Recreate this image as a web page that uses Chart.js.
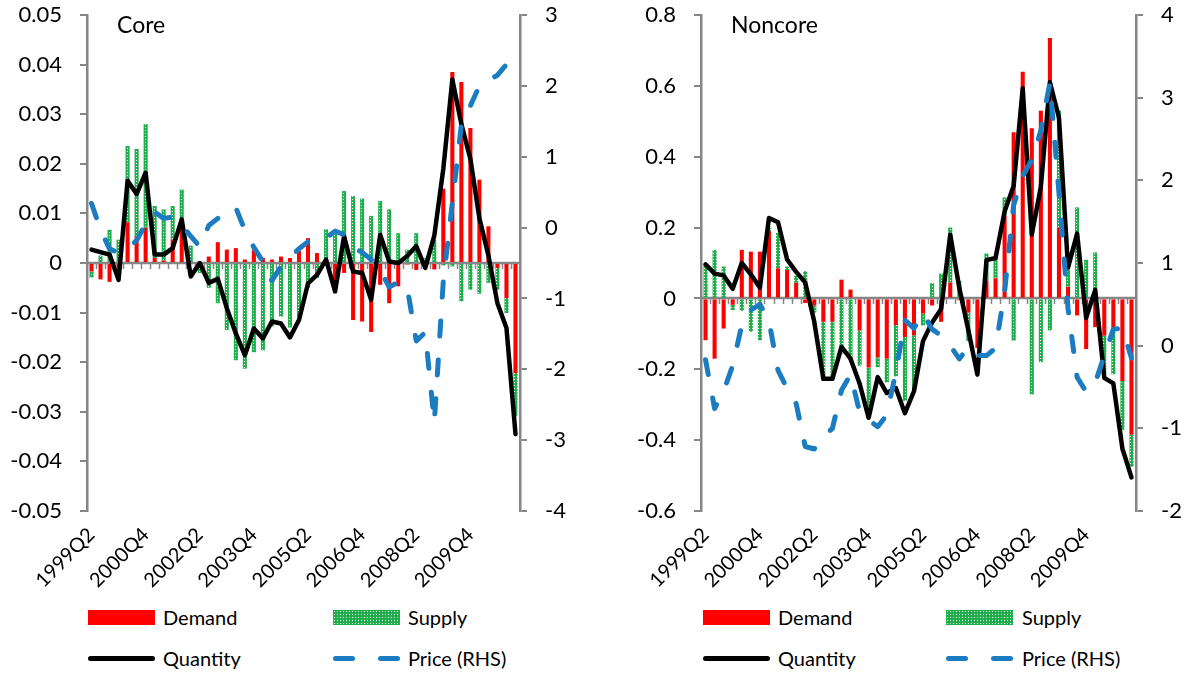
<!DOCTYPE html>
<html>
<head>
<meta charset="utf-8">
<script src="https://cdn.jsdelivr.net/npm/chart.js@4.4.1/dist/chart.umd.min.js"></script>
<style>
  body { margin: 0; width: 1190px; height: 673px; background: #fff; position: relative; overflow: hidden; font-family: Lato, "Open Sans", sans-serif; color: #000; }
  canvas { position: absolute; top: 0; }
  #coreChart { left: 0; }
  #noncoreChart { left: 595px; }
  .title { position: absolute; top: 11px; font-size: 23px; line-height: 26px; }
  .swatch { position: absolute; }
  .label { position: absolute; font-size: 20px; line-height: 20px; white-space: nowrap; }
  .box { height: 15px; width: 67px; }
  .red { background: #ff0000; }
  .line { height: 5px; border-radius: 3px; }
</style>
</head>
<body>
<canvas id="coreChart" width="595" height="600"></canvas>
<canvas id="noncoreChart" width="595" height="600"></canvas>

<div class="title" style="left:117px">Core</div>
<div class="title" style="left:731px">Noncore</div>

<!-- Leyenda Core -->
<div class="swatch box red" style="left:88px; top:610px"></div>
<div class="label" style="left:163px; top:607px">Demand</div>
<div class="swatch box supplyBox" style="left:333px; top:610px"></div>
<div class="label" style="left:408px; top:607px">Supply</div>
<div class="swatch line" style="left:88px; top:656px; width:67px; background:#000"></div>
<div class="label" style="left:163px; top:648px">Quantity</div>
<div class="swatch line" style="left:333px; top:656px; width:22px; background:#1b7cc1"></div>
<div class="swatch line" style="left:378px; top:656px; width:22px; background:#1b7cc1"></div>
<div class="label" style="left:408px; top:648px">Price (RHS)</div>

<!-- Leyenda Noncore -->
<div class="swatch box red" style="left:703px; top:610px"></div>
<div class="label" style="left:778px; top:607px">Demand</div>
<div class="swatch box supplyBox" style="left:946px; top:610px"></div>
<div class="label" style="left:1022px; top:607px">Supply</div>
<div class="swatch line" style="left:703px; top:656px; width:67px; background:#000"></div>
<div class="label" style="left:778px; top:648px">Quantity</div>
<div class="swatch line" style="left:946px; top:656px; width:22px; background:#1b7cc1"></div>
<div class="swatch line" style="left:991px; top:656px; width:22px; background:#1b7cc1"></div>
<div class="label" style="left:1022px; top:648px">Price (RHS)</div>

<script>
// Datos
const quarters = [
    '1999Q2', '1999Q3', '1999Q4', '2000Q1', '2000Q2', '2000Q3', '2000Q4', '2001Q1',
    '2001Q2', '2001Q3', '2001Q4', '2002Q1', '2002Q2', '2002Q3', '2002Q4', '2003Q1',
    '2003Q2', '2003Q3', '2003Q4', '2004Q1', '2004Q2', '2004Q3', '2004Q4', '2005Q1',
    '2005Q2', '2005Q3', '2005Q4', '2006Q1', '2006Q2', '2006Q3', '2006Q4', '2007Q1',
    '2007Q2', '2007Q3', '2007Q4', '2008Q1', '2008Q2', '2008Q3', '2008Q4', '2009Q1',
    '2009Q2', '2009Q3', '2009Q4', '2010Q1', '2010Q2', '2010Q3', '2010Q4', '2011Q1'
];

const coreDemand = [
    -0.0017, -0.0033, -0.0038, -0.001, 0.0082, 0.0054, 0.0071, 0.001,
    0.0005, 0.0047, 0.0068, 0.0, -0.0005, 0.0013, 0.0042, 0.0027,
    0.003, 0.0007, 0.0027, 0.001, 0.0007, 0.0013, 0.001, 0.0024,
    0.005, 0.002, 0.0, -0.0061, -0.002, -0.0115, -0.0118, -0.0139,
    -0.0044, -0.0081, -0.0047, -0.0003, -0.0014, -0.0003, -0.0013, 0.015,
    0.0385, 0.0365, 0.0272, 0.0168, 0.0074, -0.001, -0.0071, -0.0222
];
const coreSupply = [
    -0.0012, 0.0015, 0.0067, 0.0047, 0.0154, 0.0176, 0.0209, 0.0105,
    0.0103, 0.0068, 0.008, 0.0035, -0.0015, -0.005, -0.0081, -0.0135,
    -0.0196, -0.0213, -0.018, -0.0176, -0.0128, -0.0108, -0.013, -0.0108,
    -0.005, -0.003, 0.0068, 0.006, 0.0145, 0.0135, 0.013, 0.0095,
    0.0125, 0.0108, 0.006, 0.0027, 0.006, 0.001, 0.0047, -0.0005,
    -0.0007, -0.0077, -0.0054, -0.0062, -0.004, -0.0044, -0.003, -0.0087
];
const coreQuantity = [
    0.0027, 0.0022, 0.0017, -0.0034, 0.0166, 0.0139, 0.0182, 0.0017,
    0.0017, 0.003, 0.0088, -0.0027, 0.0, -0.004, -0.0032, -0.0091,
    -0.0142, -0.0186, -0.0132, -0.0152, -0.0118, -0.0122, -0.015, -0.0115,
    -0.0041, -0.0024, 0.0007, -0.0057, 0.0054, -0.0017, -0.002, -0.0074,
    0.0057, 0.0003, 0.0, 0.0014, 0.0034, -0.001, 0.0055, 0.019,
    0.037, 0.028, 0.021, 0.009, 0.0015, -0.0081, -0.0131, -0.0345
];
const corePrice = [
    0.34, -0.03, -0.3, -0.36, -0.3, -0.18, 0.05, 0.22,
    0.13, 0.15, 0.03, -0.12, -0.27, 0.03, 0.13, 0.18,
    0.28, -0.04, -0.28, -0.48, -0.75, -0.55, -0.42, -0.3,
    -0.2, -0.2, -0.15, -0.05, -0.1, -0.28, -0.35, -0.45,
    -0.6, -0.84, -0.77, -0.85, -1.6, -1.48, -2.75, -0.75,
    0.35, 1.45, 1.72, 2.0, 2.08, 2.15, 2.3, 2.15
];

const noncoreDemand = [
    -0.118, -0.17, -0.085, -0.018, 0.137, 0.132, 0.132, 0.19,
    0.085, 0.08, 0.044, -0.013, -0.02, -0.066, -0.066, 0.053,
    0.025, -0.09, -0.195, -0.166, -0.17, -0.075, -0.109, -0.104,
    -0.043, -0.02, -0.066, 0.045, -0.005, -0.04, -0.14, 0.05,
    0.057, 0.233, 0.469, 0.64, 0.48, 0.53, 0.735, 0.2,
    0.033, -0.048, -0.143, -0.081, -0.105, -0.086, -0.233, -0.385
];
const noncoreSupply = [
    0.095, 0.137, 0.09, -0.015, -0.035, -0.094, -0.118, 0.01,
    0.1, 0.01, 0.02, 0.077, -0.02, -0.166, -0.16, -0.156,
    -0.175, -0.1, -0.123, -0.028, -0.067, -0.145, -0.18, -0.16,
    -0.033, 0.043, 0.07, 0.155, 0.05, -0.08, 0.0, 0.077,
    0.062, 0.052, -0.119, 0.0, -0.271, -0.18, -0.09, 0.33,
    0.048, 0.257, 0.109, 0.13, -0.109, -0.128, -0.138, -0.09
];
const noncoreQuantity = [
    0.096, 0.07, 0.065, 0.027, 0.1, 0.068, 0.03, 0.227,
    0.215, 0.11, 0.075, 0.045, -0.066, -0.227, -0.227, -0.137,
    -0.17, -0.24, -0.337, -0.222, -0.267, -0.253, -0.324, -0.262,
    -0.12, -0.068, -0.03, 0.18, 0.03, -0.09, -0.215, 0.108,
    0.114, 0.245, 0.318, 0.593, 0.18, 0.315, 0.61, 0.51,
    0.087, 0.183, -0.055, 0.024, -0.224, -0.24, -0.424, -0.505
];
const noncorePrice = [
    -0.17, -0.76, -0.55, -0.24, 0.25, 0.43, 0.5, 0.3,
    -0.3, -0.52, -0.7, -1.22, -1.25, -1.1, -1.0, -0.54,
    -0.35, -0.8, -0.9, -0.98, -0.84, -0.32, 0.31, 0.21,
    0.39, 0.2, 0.12, 0.0, -0.16, -0.02, -0.12, -0.12,
    -0.03, 0.65, 1.7, 2.05, 2.25, 2.6, 3.18, 1.85,
    0.45, -0.38, -0.56, -0.45, -0.12, 0.2, 0.21, -0.15
];

// Escalas (min, max, paso)
const coreLeftRange = [-0.05, 0.05, 0.01];
const coreRightRange = [-4, 3, 1];
const noncoreLeftRange = [-0.6, 0.8, 0.2];
const noncoreRightRange = [-2, 4, 1];

// Trama punteada para Supply
function dotPattern() {
    const c = document.createElement('canvas');
    c.width = 3;
    c.height = 3;
    const g = c.getContext('2d');
    g.fillStyle = '#1fae4b';
    g.fillRect(0, 0, 3, 3);
    g.fillStyle = '#ffffff';
    g.fillRect(1, 1, 1, 1);
    return c;
}
const patternCanvas = dotPattern();
document.querySelectorAll('.supplyBox').forEach(el => {
    el.style.backgroundImage = `url(${patternCanvas.toDataURL()})`;
});

// Eje en cero con marcas de categoría
const zeroAxis = {
    id: 'zeroAxis',
    beforeDatasetsDraw(chart) {
        const { ctx, chartArea, scales } = chart;
        const x = scales.x;
        const y0 = Math.round(scales.y.getPixelForValue(0));
        ctx.save();
        ctx.strokeStyle = '#868686';
        ctx.lineWidth = 2.5;
        ctx.beginPath();
        ctx.moveTo(chartArea.left, y0);
        ctx.lineTo(chartArea.right, y0);
        ctx.stroke();
        ctx.lineWidth = 1.5;
        ctx.beginPath();
        for (let i = 1; i < quarters.length; i++) {
            const px = Math.round((x.getPixelForValue(i - 1) + x.getPixelForValue(i)) / 2) + 0.5;
            ctx.moveTo(px, y0);
            ctx.lineTo(px, y0 + 6);
        }
        ctx.stroke();
        ctx.restore();
    }
};

const gray = '#868686';
const tickFont = { family: 'Lato', size: 22 };

function makeChart(id, demand, supply, quantity, price, leftRange, rightRange, leftW, rightW, decimals) {
    const canvas = document.getElementById(id);
    const H = canvas.height;
    const axisCommon = (range, position, w) => ({
        position: position,
        min: range[0],
        max: range[1],
        border: { display: true, color: gray, width: 2.5 },
        grid: { drawOnChartArea: false, drawTicks: true, tickLength: 7, color: gray, lineWidth: 2 },
        ticks: {
            stepSize: range[2],
            color: '#000',
            font: tickFont,
            padding: 18,
            callback: v => String(Number(v.toFixed(decimals)))
        },
        afterFit: s => {
            s.width = w;
            s.paddingTop = 0;
            s.paddingBottom = 0;
        }
    });
    const left = axisCommon(leftRange, 'left', leftW);
    left.stacked = true;
    const right = axisCommon(rightRange, 'right', rightW);
    right.stacked = false;
    right.ticks.callback = v => String(v);

    return new Chart(canvas, {
        type: 'bar',
        data: {
            labels: quarters,
            datasets: [
                { label: 'Demand', data: demand, backgroundColor: '#ff0000', yAxisID: 'y', order: 2,
                  barPercentage: 0.45, categoryPercentage: 1 },
                { label: 'Supply', data: supply, backgroundColor: (c) => c.chart.ctx.createPattern(patternCanvas, 'repeat'),
                  yAxisID: 'y', order: 2, barPercentage: 0.45, categoryPercentage: 1 },
                { type: 'line', label: 'Quantity', data: quantity, yAxisID: 'y', order: 1, stack: 'q',
                  borderColor: '#000', borderWidth: 4.5, pointRadius: 0, tension: 0,
                  borderJoinStyle: 'round', borderCapStyle: 'round' },
                { type: 'line', label: 'Price (RHS)', data: price, yAxisID: 'y1', order: 0,
                  borderColor: '#1b7cc1', borderWidth: 5, pointRadius: 0, tension: 0,
                  borderDash: [15, 24], borderCapStyle: 'round', borderJoinStyle: 'round' }
            ]
        },
        options: {
            responsive: false,
            animation: false,
            layout: { padding: { top: 15, left: 0, right: 0, bottom: 0 } },
            plugins: { legend: { display: false }, tooltip: { enabled: false } },
            scales: {
                x: {
                    stacked: true,
                    grid: { display: false },
                    border: { display: false },
                    ticks: {
                        autoSkip: false,
                        maxRotation: 45,
                        minRotation: 45,
                        padding: 4,
                        color: '#000',
                        font: { family: 'Lato', size: 20 },
                        callback: function (v, i) { return i % 6 === 0 ? this.getLabelForValue(v) : ''; }
                    },
                    afterFit: s => { s.height = H - 511; }
                },
                y: left,
                y1: right
            }
        },
        plugins: [zeroAxis]
    });
}

makeChart('coreChart', coreDemand, coreSupply, coreQuantity, corePrice,
    coreLeftRange, coreRightRange, 87, 75, 2);
makeChart('noncoreChart', noncoreDemand, noncoreSupply, noncoreQuantity, noncorePrice,
    noncoreLeftRange, noncoreRightRange, 106, 54, 1);
</script>
</body>
</html>
